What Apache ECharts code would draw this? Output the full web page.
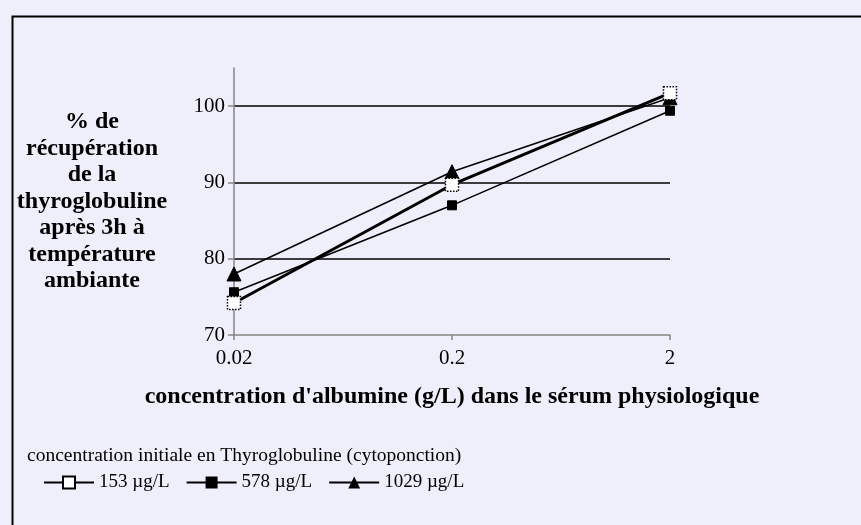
<!DOCTYPE html>
<html><head><meta charset="utf-8">
<script src="https://cdn.jsdelivr.net/npm/echarts@6/dist/echarts.min.js"></script>
<style>html,body{margin:0;padding:0;background:#EFEFFB}#c{width:861px;height:525px}</style>
</head><body><div id="c"></div>
<script>
const categories = ['0.02', '0.2', '2'];
const seriesNames = ['153 µg/L', '578 µg/L', '1029 µg/L'];
const s153 = [74.2, 89.7, 101.7];
const s578 = [75.6, 87.0, 99.4];
const s1029 = [78.0, 91.4, 101.1];
const yTicks = [70, 80, 90, 100];
const yTitleLines = ['% de', 'récupération', 'de la', 'thyroglobuline', 'après 3h à', 'température', 'ambiante'];
const xTitle = "concentration d'albumine (g/L) dans le sérum physiologique";
const legendTitle = 'concentration initiale en Thyroglobuline (cytoponction)';

const FONT = '"Liberation Serif", "Times New Roman", serif';
const chart = echarts.init(document.getElementById('c'), null, {renderer: 'canvas'});
chart.setOption({
  backgroundColor: '#EFEFFB',
  animation: false,
  textStyle: {fontFamily: FONT},
  grid: {left: 234, right: 191, top: 68, bottom: 190},
  graphic: [
    {type: 'rect', left: 10, top: 14, shape: {width: 900, height: 600}, style: {fill: 'none', stroke: '#000', lineWidth: 2}, silent: true},
    {type: 'text', x: 92, y: 109, style: {text: yTitleLines.join('\n'), align: 'center', verticalAlign: 'top', font: 'bold 24px ' + FONT, fill: '#000', lineHeight: 26.5}, silent: true},
    {type: 'text', x: 27, y: 446, style: {text: legendTitle, font: '19.5px ' + FONT, fill: '#000'}, silent: true}
  ],
  legend: {
    left: 38, top: 468, itemGap: 16, itemWidth: 50, itemHeight: 15,
    textStyle: {fontFamily: FONT, fontSize: 19, color: '#000'},
    data: seriesNames
  },
  xAxis: {
    type: 'category', data: categories, boundaryGap: false,
    name: xTitle, nameLocation: 'middle', nameGap: 50,
    nameTextStyle: {fontFamily: FONT, fontSize: 24, fontWeight: 'bold', color: '#000'},
    axisLine: {lineStyle: {color: '#868686', width: 1.5}},
    axisTick: {show: true, alignWithLabel: true, length: 5, lineStyle: {color: '#868686', width: 1.5}},
    axisLabel: {fontFamily: FONT, fontSize: 21, color: '#000', margin: 13},
    splitLine: {show: false}
  },
  yAxis: {
    type: 'value', min: 70, max: 105, interval: 10,
    axisLine: {show: true, lineStyle: {color: '#868686', width: 1.5}},
    axisTick: {show: true, length: 6, customValues: yTicks, lineStyle: {color: '#868686', width: 1.5}},
    axisLabel: {fontFamily: FONT, fontSize: 21, color: '#000', margin: 9, customValues: yTicks},
    splitLine: {show: true, showMinLine: false, showMaxLine: true, lineStyle: {color: '#000', width: 1.5}}
  },
  series: [
    {name: seriesNames[0], type: 'line', data: s153, symbol: 'rect', symbolSize: 13, z: 3,
     lineStyle: {color: '#000', width: 3},
     itemStyle: {color: '#fff', borderColor: '#000', borderWidth: 1.5, borderType: 'dotted'}},
    {name: seriesNames[1], type: 'line', data: s578, symbol: 'rect', symbolSize: 9, z: 2,
     lineStyle: {color: '#000', width: 1.5},
     itemStyle: {color: '#000', borderColor: '#000'}},
    {name: seriesNames[2], type: 'line', data: s1029, symbol: 'triangle', symbolSize: 14, z: 2,
     lineStyle: {color: '#000', width: 1.5},
     itemStyle: {color: '#000', borderColor: '#000'}}
  ]
});
</script></body></html>
